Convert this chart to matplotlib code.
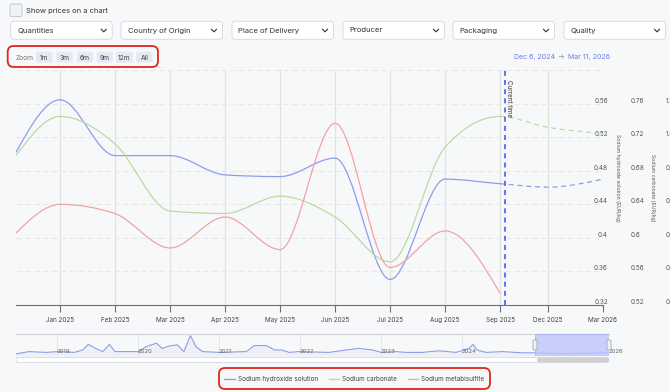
import numpy as np
import matplotlib.pyplot as plt
from matplotlib.path import Path
from matplotlib.patches import PathPatch, FancyBboxPatch
from matplotlib.lines import Line2D
from matplotlib import transforms as mtrans

plt.rcParams['font.family'] = ['Inter', 'DejaVu Sans']

W, H = 670, 392
BG = '#f7f8fa'

# ---- main chart data ----
month_labels = ['Jan 2025', 'Feb 2025', 'Mar 2025', 'Apr 2025', 'May 2025', 'Jun 2025',
                'Jul 2025', 'Aug 2025', 'Sep 2025', 'Dec 2025', 'Mar 2026']
month_pos = [0, 1, 2, 3, 4, 5, 6, 7, 8, 8.87, 9.87]
x_start = -0.8          # Dec 6, 2024 (left edge)
current_time = 8.09

hist_x = [-0.8, 0, 1, 2, 3, 4, 5, 6, 7, 8]
hydroxide = [0.502, 0.5645, 0.498, 0.498, 0.475, 0.473, 0.495, 0.3505, 0.470, 0.4645]
carbonate = [0.698, 0.7447, 0.712, 0.632, 0.629, 0.6497, 0.6248, 0.5714, 0.708, 0.7447]
metabisulfite = [0.8116, 0.8798, 0.8577, 0.776, 0.8496, 0.7722, 1.0728, 0.7295, 0.8164, 0.6678]

fc_x = [8.87, 9.87]
hydroxide_fc = [0.4604, 0.470]
carbonate_fc = [0.7317, 0.7245]

hyd_ticks = [0.32, 0.36, 0.40, 0.44, 0.48, 0.52, 0.56]
carb_ticks = [0.52, 0.56, 0.60, 0.64, 0.68, 0.72, 0.76]
meta_ticks = [0.64, 0.72, 0.80, 0.88, 0.96, 1.04, 1.12]

# ---- navigator data (hydroxide history) ----
nav_years = [2018.49, 2018.66, 2018.87, 2019.01, 2019.22, 2019.32, 2019.39, 2019.48, 2019.57,
             2019.65, 2019.72, 2020.01, 2020.10, 2020.23, 2020.30, 2020.39, 2020.49, 2020.57,
             2020.65, 2020.72, 2020.80, 2021.01, 2021.34, 2021.44, 2021.59, 2021.69, 2021.78,
             2021.87, 2021.99, 2022.36, 2022.57, 2022.73, 2022.90, 2023.01, 2023.19, 2023.31,
             2023.51, 2023.72, 2023.93, 2024.09, 2024.14, 2024.19, 2024.30, 2024.50, 2024.75,
             2024.92, 2025.24, 2025.82]
nav_values = [0.45, 0.51, 0.49, 0.51, 0.49, 0.55, 0.69, 0.59, 0.51,
              0.69, 0.51, 0.51, 0.63, 0.72, 0.59, 0.65, 0.68, 0.51,
              0.91, 0.63, 0.51, 0.49, 0.51, 0.66, 0.66, 0.55, 0.55,
              0.49, 0.51, 0.49, 0.55, 0.59, 0.55, 0.49, 0.51, 0.49,
              0.49, 0.53, 0.49, 0.59, 0.69, 0.55, 0.49, 0.51, 0.48,
              0.48, 0.46, 0.48]
nav_year_ticks = [2019, 2020, 2021, 2022, 2023, 2024]
nav_range = (2018.497, 2025.819)
nav_sel_start = 2024.906

filters = ['Quantities', 'Country of Origin', 'Place of Delivery', 'Producer', 'Packaging', 'Quality']
zoom_buttons = ['1m', '3m', '6m', '9m', '12m', 'All']

BLUE, GREEN, RED = '#8f9de9', '#b8dca3', '#f3a3a3'


def monotone_segments(x, y):
    x = np.asarray(x, float)
    y = np.asarray(y, float)
    h = np.diff(x)
    s = np.diff(y) / h
    n = len(x)
    t = np.zeros(n)
    for i in range(1, n - 1):
        p = (s[i - 1] * h[i] + s[i] * h[i - 1]) / (h[i - 1] + h[i])
        t[i] = (np.sign(s[i - 1]) + np.sign(s[i])) * min(abs(s[i - 1]), abs(s[i]), 0.5 * abs(p))
    t[0] = (3 * s[0] - t[1]) / 2
    t[-1] = (3 * s[-1] - t[-2]) / 2
    segs = []
    for i in range(n - 1):
        d = h[i] / 3
        segs.append([(x[i], y[i]), (x[i] + d, y[i] + d * t[i]),
                     (x[i + 1] - d, y[i + 1] - d * t[i + 1]), (x[i + 1], y[i + 1])])
    return segs


def seg_path(segs):
    verts = [segs[0][0]]
    codes = [Path.MOVETO]
    for sg in segs:
        verts += sg[1:]
        codes += [Path.CURVE4] * 3
    return Path(verts, codes)


def draw_curve(axis, x, y, color, n_solid=None):
    segs = monotone_segments(x, y)
    if n_solid is None:
        n_solid = len(segs)
    axis.add_patch(PathPatch(seg_path(segs[:n_solid]), fill=False, edgecolor=color, lw=0.9))
    if n_solid < len(segs):
        axis.add_patch(PathPatch(seg_path(segs[n_solid:]), fill=False, edgecolor=color,
                                 lw=0.9, ls=(0, (4, 3))))


fig = plt.figure(figsize=(W / 100, H / 100), dpi=100, facecolor=BG)
px = mtrans.Affine2D().scale(1, -1).translate(0, H)


def rect(x0, y0, x1, y1):
    return [x0 / W, 1 - y1 / H, (x1 - x0) / W, (y1 - y0) / H]


def box(x, y, w, h, fc, ec, lw=0.7, r=3, z=1):
    fig.add_artist(FancyBboxPatch((x, y), w, h, boxstyle=f'round,pad=0,rounding_size={r}',
                                  transform=px, fc=fc, ec=ec, lw=lw, zorder=z))


# ---- top controls ----
box(10, 4, 12, 12.5, '#eef1f7', '#c3c8d2', r=2)
fig.text(26.5, 10.5, 'Show prices on a chart', transform=px, fontsize=5.4, color='#333',
         va='center')
fx0 = [10.7, 121, 232, 343, 453, 564]
for lab, x0 in zip(filters, fx0):
    box(x0, 21.3, 101.5, 18, 'white', '#d8dbe2', r=3)
    fig.text(x0 + 6.5, 30.5, lab, transform=px, fontsize=5.5, color='#333', va='center')
    xc = x0 + 93
    fig.add_artist(Line2D([xc - 2.5, xc, xc + 2.5], [29.3, 31.8, 29.3], transform=px,
                          color='#333', lw=0.8))

fig.text(16, 57.5, 'Zoom', transform=px, fontsize=4.8, color='#777', va='center')
bx = [(36, 52.6), (56.4, 72.6), (77, 93), (96.6, 112.8), (116, 133), (136, 152.6)]
for lab, (a, b) in zip(zoom_buttons, bx):
    box(a, 51.7, b - a, 11, '#e4e9f4', 'none', r=2)
    fig.text((a + b) / 2, 57.5, lab, transform=px, fontsize=4.8, color='#444',
             ha='center', va='center')
box(7.7, 46, 150.3, 21, 'none', '#e5231b', lw=1.3, r=6, z=5)

fig.text(514, 57.5, 'Dec 6, 2024', transform=px, fontsize=5.1, color='#6b7cf0', va='center')
fig.text(560.5, 57.5, '\u2192', transform=px, fontsize=5.1, color='#8a8fa0', va='center',
         ha='center')
fig.text(568, 57.5, 'Mar 11, 2026', transform=px, fontsize=5.1, color='#6b7cf0', va='center')

# ---- main chart ----
ax = fig.add_axes(rect(16, 70, 603, 305))
ax.set_facecolor('none')
ax.set_xlim(x_start, month_pos[-1])
ax.set_ylim(0.32, 0.60)
ax2 = ax.twinx()
ax2.set_ylim(0.52, 0.80)
ax3 = ax.twinx()
ax3.set_ylim(0.64, 1.20)
for a in (ax, ax2, ax3):
    for sp in a.spines.values():
        sp.set_visible(False)
    a.tick_params(axis='y', left=False, right=False, labelleft=False, labelright=False)
ax.spines['bottom'].set_visible(True)
ax.spines['bottom'].set_color('#6f6f6f')
ax.spines['bottom'].set_linewidth(0.8)

ax.set_xticks(month_pos)
ax.set_xticklabels(month_labels, fontsize=4.6, color='#444')
ax.tick_params(axis='x', length=5, width=0.8, color='#6f6f6f', pad=3.5)
ax.set_yticks(hyd_ticks + [0.60])
ax.xaxis.grid(True, color='#e2e2dc', lw=0.9)
ax.yaxis.grid(True, color='#e7e8ea', lw=0.8, ls=(0, (5, 3)))
ax.set_axisbelow(True)

tr_lab = mtrans.blended_transform_factory(ax.transAxes, ax.transData)
for v in hyd_ticks:
    ax.text(1.0, v, f'{v:g}', transform=tr_lab + mtrans.ScaledTranslation(0.05, 0.03, fig.dpi_scale_trans),
            fontsize=4.6, color='#555', ha='right', va='center', clip_on=False)
tr2 = mtrans.blended_transform_factory(ax2.transAxes, ax2.transData)
for v in carb_ticks:
    ax2.text(1.0, v, f'{v:g}', transform=tr2 + mtrans.ScaledTranslation(0.28, 0.03, fig.dpi_scale_trans),
             fontsize=4.6, color='#555', ha='left', va='center', clip_on=False)
tr3 = mtrans.blended_transform_factory(ax3.transAxes, ax3.transData)
for v in meta_ticks:
    ax3.text(1.0, v, f'{v:g}', transform=tr3 + mtrans.ScaledTranslation(0.625, 0.03, fig.dpi_scale_trans),
             fontsize=4.6, color='#555', ha='left', va='center', clip_on=False)

ax.text(1.024, 0.542, 'Sodium hydroxide solution (EUR/kg)', transform=ax.transAxes,
        rotation=270, fontsize=3.7, color='#555', ha='center', va='center')
ax.text(1.0835, 0.50, 'Sodium carbonate (EUR/kg)', transform=ax.transAxes,
        rotation=270, fontsize=3.7, color='#555', ha='center', va='center')

draw_curve(ax, hist_x + fc_x, hydroxide + hydroxide_fc, BLUE, n_solid=len(hist_x) - 1)
draw_curve(ax2, hist_x + fc_x, carbonate + carbonate_fc, GREEN, n_solid=len(hist_x) - 1)
draw_curve(ax3, hist_x, metabisulfite, RED)

ax3.axvline(current_time, color='#4a5cf0', lw=1.2, ls=(0, (3, 2.5)), zorder=5)
ax3.text(current_time, 0.60, 'Current time', rotation=270, fontsize=4.5, color='#333',
         ha='left', va='top',
         transform=mtrans.blended_transform_factory(ax.transData, ax.transData)
         + mtrans.ScaledTranslation(0.012, -0.1, fig.dpi_scale_trans))

# ---- navigator ----
axn = fig.add_axes(rect(16, 333.5, 609, 356))
axn.set_facecolor('none')
axn.set_xlim(*nav_range)
axn.set_ylim(0.40, 0.9625)
for k, sp in axn.spines.items():
    sp.set_visible(k == 'top')
axn.spines['top'].set_color('#d3d5da')
axn.spines['top'].set_linewidth(0.9)
axn.set_xticks(nav_year_ticks)
axn.set_yticks([])
axn.tick_params(axis='x', length=0, labelbottom=False)
axn.xaxis.grid(True, color='#e4e5e8', lw=0.7)
axn.fill_between(nav_years, nav_values, 0.40, color=BLUE, alpha=0.08, lw=0)
axn.plot(nav_years, nav_values, color=BLUE, lw=0.8)
for yr in nav_year_ticks:
    axn.text(yr, 0.18, str(yr), transform=mtrans.blended_transform_factory(axn.transData, axn.transAxes),
             fontsize=4.3, color='#666', ha='left', va='center')
axn.text(1.0, 0.18, '2026', transform=axn.transAxes, fontsize=4.3, color='#666',
         ha='left', va='center', clip_on=False)
axn.axvspan(nav_sel_start, nav_range[1], fc='#bcc5fa', ec='#9eaaf2', alpha=0.8, lw=0.6, zorder=3)
for hx in (535, 609):
    box(hx - 2, 340, 4, 10, '#f2f2f2', '#999', lw=0.5, r=1, z=6)

# scrollbar
box(16, 357.5, 593, 5, 'white', '#d6d8dd', lw=0.6, r=2.5)
box(537, 357.7, 72, 4.6, '#cfd0d3', 'none', r=2.3)

# ---- legend ----
handles = [Line2D([], [], color=c, lw=1) for c in (BLUE, GREEN, RED)]
fig.legend(handles, ['Sodium hydroxide solution', 'Sodium carbonate', 'Sodium metabisulfite'],
           loc='center', bbox_to_anchor=((219 + 490) / 2 / W, 1 - 379 / H), ncol=3,
           frameon=False, fontsize=4.6, handlelength=1.6, handletextpad=0.5,
           columnspacing=1.7, labelcolor='#444')
box(219, 368, 271, 21, 'none', '#e5231b', lw=1.3, r=6, z=5)

fig.savefig('out.png', dpi=100, facecolor=BG)
